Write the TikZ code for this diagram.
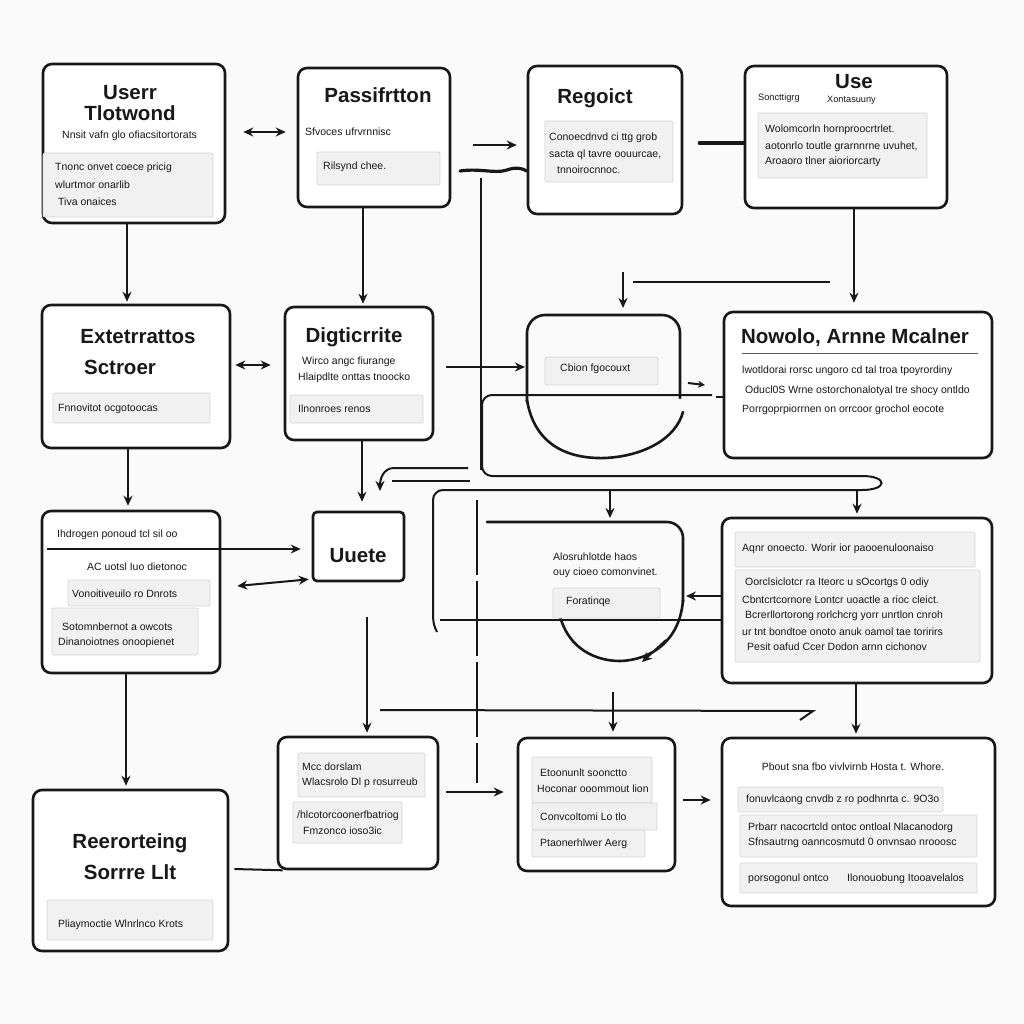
\documentclass[tikz,border=0pt]{standalone}
\usepackage{fontspec}
\setmainfont{Liberation Sans}
\usetikzlibrary{arrows.meta}
\definecolor{ink}{RGB}{24,24,24}
\definecolor{bg}{RGB}{250,250,250}
\definecolor{bandfill}{RGB}{241,241,241}
\definecolor{bandline}{RGB}{214,214,214}
\tikzset{
 box/.style={draw=ink, line width=2.6pt, rounded corners=9pt, fill=white, inner sep=0pt},
 band/.style={fill=bandfill, draw=bandline, line width=0.7pt, rounded corners=2pt},
 ttl/.style={font=\fontsize{20.5}{21}\selectfont\bfseries, text=ink, align=center, inner sep=0pt},
 sm/.style={font=\fontsize{10.5}{12}\selectfont, text=ink, anchor=west, inner sep=0pt},
 tiny/.style={font=\fontsize{9.2}{10}\selectfont, text=ink, anchor=west, inner sep=0pt},
 conn/.style={draw=ink, line width=2pt},
 thick conn/.style={draw=ink, line width=3.2pt, line cap=round},
 arr/.style={conn, -{Stealth[length=10pt,width=9pt]}},
 darr/.style={conn, {Stealth[length=10pt,width=9pt]}-{Stealth[length=10pt,width=9pt]}},
 shp/.style={draw=ink, line width=2.6pt, line cap=round},
}
\begin{document}
\begin{tikzpicture}[x=1pt,y=-1pt]
\fill[bg] (0,0) rectangle (1024,1024);
\useasboundingbox (0,0) rectangle (1024,1024);

% ---------- boxes ----------
\node[box, minimum width=182pt, minimum height=159pt] (user) at (134,143.5) {};
\node[box, minimum width=152pt, minimum height=139pt] (pass) at (374,137.5) {};
\node[box, minimum width=154pt, minimum height=148pt] (reg) at (605,140) {};
\node[box, minimum width=202pt, minimum height=142pt] (use) at (846,137) {};
\node[box, minimum width=188pt, minimum height=143pt] (ext) at (136,376.5) {};
\node[box, minimum width=148pt, minimum height=133pt] (dig) at (359,373.5) {};
\node[box, minimum width=268pt, minimum height=146pt] (nowolo) at (858,385) {};
\node[box, minimum width=178pt, minimum height=162pt] (hyd) at (131,592) {};
\node[box, minimum width=91pt, minimum height=69pt, rounded corners=4pt] (uuete) at (358.5,546.5) {};
\node[box, minimum width=270pt, minimum height=165pt] (aqnr) at (857,600.5) {};
\node[box, minimum width=195pt, minimum height=161pt] (reer) at (130.5,870.5) {};
\node[box, minimum width=160pt, minimum height=132pt] (mcc) at (358,803) {};
\node[box, minimum width=157pt, minimum height=133pt] (etoo) at (596.5,804.5) {};
\node[box, minimum width=273pt, minimum height=168pt] (pbout) at (858.5,822) {};

% shape 7 (rounded top, round bottom)
\draw[shp, rounded corners=18pt] (527,402) -- (527,315) -- (680,315) -- (680,398);
\draw[shp] (527,400) .. controls (535,448) and (572,459) .. (605,458) .. controls (645,456) and (676,438) .. (683,412);
\coordinate (s7w) at (525,367);
\coordinate (s7n) at (623,308);
% shape 11
\draw[shp, rounded corners=16pt] (487,522) -- (683,522) -- (683,602);
\draw[shp] (557,598) .. controls (560,645) and (592,661) .. (620,661) .. controls (652,660) and (680,640) .. (683,600);
\coordinate (s11e) at (686,596);

% ---------- bands ----------
\path[band] (43,153) rectangle (213,217);
\path[band] (317,152) rectangle (440,185);
\path[band] (545,121) rectangle (673,182);
\path[band] (758,113) rectangle (927,178);
\path[band] (53,393) rectangle (210,423);
\path[band] (290,395) rectangle (423,423);
\path[band] (545,357) rectangle (658,385);
\path[band] (68,580) rectangle (210,606);
\path[band] (52,608) rectangle (198,655);
\path[band] (553,588) rectangle (660,618);
\path[band] (735,532) rectangle (975,567);
\path[band] (735,570) rectangle (980,662);
\path[band] (47,900) rectangle (213,940);
\path[band] (298,753) rectangle (425,797);
\path[band] (293,802) rectangle (402,843);
\path[band] (532,757) rectangle (652,803);
\path[band] (532,803) rectangle (657,830);
\path[band] (532,830) rectangle (645,857);
\path[band] (738,787) rectangle (943,812);
\path[band] (740,815) rectangle (977,857);
\path[band] (740,863) rectangle (977,893);

% ---------- texts ----------
\node[ttl] (tUser) at (130,103) {Userr\\Tlotwond};
\node[sm] (tUser1) at (62,136) {Nnsit vafn glo ofiacsitortorats};
\node[sm] (tUser2) at (55,168) {Tnonc onvet coece pricig};
\node[sm] (tUser3) at (55,185) {wlurtmor onarlib};
\node[sm] (tUser4) at (58,202) {Tiva onaices};

\node[ttl] (tPass) at (378,95) {Passifrtton};
\node[sm] (tPass1) at (305,132) {Sfvoces ufrvrnnisc};
\node[sm] (tPass2) at (323,167) {Rilsynd chee.};

\node[ttl] (tReg) at (595,98) {Regoict};
\node[sm] (tReg1) at (549,138) {Conoecdnvd ci ttg grob};
\node[sm] (tReg2) at (549,155) {sacta ql tavre oouurcae,};
\node[sm] (tReg3) at (557,170) {tnnoirocnnoc.};

\node[ttl] (tUse) at (854,82) {Use};
\node[tiny] (tUse0) at (758,98) {Soncttigrg};
\node[tiny] (tUse00) at (827,100) {Xontasuuny};
\node[sm] (tUse1) at (765,130) {Wolomcorln hornproocrtrlet.};
\node[sm] (tUse2) at (765,147) {aotonrlo toutle grarnnrne uvuhet,};
\node[sm] (tUse3) at (765,162) {Aroaoro tlner aioriorcarty};

\node[ttl] (tExt) at (138,337) {Extetrrattos};
\node[ttl] (tExt2) at (120,367) {Sctroer};
\node[sm] (tExt1) at (58,409) {Fnnovitot ocgotoocas};

\node[ttl] (tDig) at (354,337) {Digticrrite};
\node[sm] (tDig1) at (302,362) {Wirco angc fiurange};
\node[sm] (tDig2) at (298,378) {Hlaipdlte onttas tnoocko};
\node[sm] (tDig3) at (298,409) {Ilnonroes renos};

\node[sm] (tCb) at (560,369) {Cbion fgocouxt};

\node[ttl] (tNow) at (855,338) {Nowolo, Arnne Mcalner};
\draw[ink!70, line width=1pt] (742,353) -- (978,353);
\node[sm] (tNow1) at (742,371) {lwotldorai rorsc ungoro cd tal troa tpoyrordiny};
\node[sm] (tNow2) at (745,391) {Oducl0S Wrne ostorchonalotyal tre shocy ontldo};
\node[sm] (tNow3) at (742,410) {Porrgoprpiorrnen on orrcoor grochol eocote};

\node[sm] (tHyd1) at (57,535) {Ihdrogen ponoud tcl sil oo};
\node[sm] (tHyd2) at (87,567) {AC uotsl Iuo dietonoc};
\node[sm] (tHyd3) at (72,594) {Vonoitiveuilo ro Dnrots};
\node[sm] (tHyd4) at (62,627) {Sotomnbernot a owcots};
\node[sm] (tHyd5) at (58,643) {Dinanoiotnes onoopienet};

\node[ttl] (tUu) at (358,556) {Uuete};

\node[sm] (tAl1) at (553,557) {Alosruhlotde haos};
\node[sm] (tAl2) at (553,573) {ouy cioeo comonvinet.};
\node[sm] (tAl3) at (566,602) {Foratinqe};

\node[sm] (tAq1) at (742,549) {Aqnr onoecto. Worir ior paooenuloonaiso};
\node[sm] (tAq2) at (745,583) {Oorclsiclotcr ra Iteorc u sOcortgs 0 odiy};
\node[sm] (tAq3) at (742,600) {Cbntcrtcornore Lontcr uoactle a rioc cleict.};
\node[sm] (tAq4) at (745,616) {Bcrerllortorong rorlchcrg yorr unrtlon cnroh};
\node[sm] (tAq5) at (742,632) {ur tnt bondtoe onoto anuk oamol tae toririrs};
\node[sm] (tAq6) at (747,647) {Pesit oafud Ccer Dodon arnn cichonov};

\node[ttl] (tRe1) at (130,843) {Reerorteing};
\node[ttl] (tRe2) at (130,872) {Sorrre Llt};
\node[sm] (tRe3) at (58,925) {Pliaymoctie Wlnrlnco Krots};

\node[sm] (tM1) at (302,767) {Mcc dorslam};
\node[sm] (tM2) at (302,783) {Wlacsrolo Dl p rosurreub};
\node[sm] (tM3) at (297,816) {/hlcotorcoonerfbatriog};
\node[sm] (tM4) at (303,831) {Fmzonco ioso3ic};

\node[sm] (tE1) at (540,773) {Etoonunlt soonctto};
\node[sm] (tE2) at (537,789) {Hoconar ooommout lion};
\node[sm] (tE3) at (540,817) {Convcoltomi Lo tlo};
\node[sm] (tE4) at (540,844) {Ptaonerhlwer Aerg};

\node[sm, anchor=center] (tP0) at (853,767) {Pbout sna fbo vivlvirnb Hosta t. Whore.};
\node[sm] (tP1) at (746,800) {fonuvlcaong cnvdb z ro podhnrta c. 9O3o};
\node[sm] (tP2) at (748,828) {Prbarr nacocrtcld ontoc ontloal Nlacanodorg};
\node[sm] (tP3) at (748,843) {Sfnsautrng oanncosmutd 0 onvnsao nrooosc};
\node[sm] (tP4) at (748,879) {porsogonul ontco};
\node[sm] (tP5) at (847,879) {Ilonouobung Itooavelalos};

% ---------- connectors ----------
% column 1
\draw[arr] ([xshift=-7pt]user.south) -- ([xshift=-9pt,yshift=2pt]ext.north);
\draw[arr] ([xshift=-8pt]ext.south) -- ([xshift=-3pt,yshift=4pt]hyd.north);
\draw[arr] ([xshift=-5pt]hyd.south) -- ([xshift=-4.5pt,yshift=3pt]reer.north);
% double arrows
\draw[darr] ([xshift=17pt,yshift=11.5pt]user.east) -- ([xshift=-11pt,yshift=5.5pt]pass.west);
\draw[darr] ([xshift=4pt,yshift=11.5pt]ext.east) -- ([xshift=-13pt,yshift=8.5pt]dig.west);
% column 2
\draw[arr] ([xshift=-11pt]pass.south) -- ([xshift=4pt,yshift=2pt]dig.north);
\draw[arr] ([xshift=3pt]dig.south) -- ([xshift=3.5pt,yshift=9pt]uuete.north);
% to Regoict
\coordinate (r1s) at (473,145);
\draw[arr] (r1s) -- ([xshift=-10pt,yshift=-5pt]reg.west);
\coordinate (w1) at (460,171);
\draw[thick conn] (w1) .. controls (480,168) and (495,174) .. (507,170) .. controls (515,167) and (522,168) .. ([yshift=-31pt]reg.west);
% Regoict - Use
\draw[thick conn] ([xshift=16pt,yshift=-3pt]reg.east) -- ([yshift=-6pt]use.west);
% Use -> Nowolo
\draw[arr] ([xshift=8pt]use.south) -- ([xshift=-4pt,yshift=8pt]nowolo.north);
% line and arrow to shape 7
\coordinate (h1a) at (633,282);
\coordinate (h1b) at (830,282);
\draw[conn] (h1a) -- (h1b);
\coordinate (v1) at (623,272);
\draw[arr] (v1) -- (s7n);
% Digticrrite -> shape 7
\draw[arr] ([xshift=12pt,yshift=6.5pt]dig.east) -- (s7w);
% small arrow & dash
\coordinate (sa1) at (688,383);
\coordinate (sa2) at (705,385);
\draw[conn, -{Stealth[length=7pt,width=7pt]}] (sa1) -- (sa2);
\coordinate (d1) at (716,397);
\coordinate (d2) at (724,397);
\draw[conn] (d1) -- (d2);
% long vertical line and loop
\coordinate (lv) at (481,178);
\draw[conn] (lv) -- (481,470);
\draw[conn, rounded corners=10pt] (712,395) -- (482,395) -- (482,476) -- (862,476);
\draw[conn] (862,476) .. controls (888,476) and (888,490) .. (862,490);
\draw[conn, rounded corners=10pt] (862,490) -- (433,490) -- (433,614);
\draw[conn] (433,614) .. controls (433,624) and (435,628) .. (437,632);
% arrows down from loop
\coordinate (da1) at (610,490);
\coordinate (da2) at (857,490);
\draw[arr] (da1) -- (610,518);
\draw[arr] (da2) -- ([yshift=3pt]aqnr.north);
% left arrow to Uuete
\coordinate (la1) at (468,468);
\coordinate (la2) at (470,481);
\draw[conn, -{Stealth[length=10pt,width=9pt]}] (la1) -- (394,468) .. controls (384,468) and (380,478) .. (380,491);
\draw[conn] (la2) -- (392,481);
% through hyd to Uuete
\draw[arr] ([xshift=6pt,yshift=43pt]hyd.west) -- ([xshift=-11pt,yshift=-2.5pt]uuete.west);
% Uuete <-> hyd
\draw[darr] ([xshift=-3pt,yshift=3pt]uuete.south west) -- ([xshift=16pt,yshift=6pt]hyd.east);
% Aqnr -> shape 11
\draw[arr] ([yshift=4.5pt]aqnr.west) -- (s11e);
% horizontal through shape 11
\coordinate (h2) at (440,620);
\draw[conn] (h2) -- ([yshift=-19.5pt]aqnr.west);
% arc arrow of shape 11
\coordinate (aa1) at (666,640);
\coordinate (aa2) at (642,662);
\draw[arr] (aa1) -- (aa2);
% dashed vertical
\coordinate (dv) at (477,500);
\draw[conn, dash pattern=on 75pt off 6pt] (dv) -- (477,783);
% vertical arrow to mcc
\coordinate (v2) at (367,617);
\draw[arr] (v2) -- ([xshift=9pt,yshift=3pt]mcc.north);
% horizontal line with hook, arrow to etoo
\coordinate (h3a) at (380,710);
\draw[conn] (h3a) -- (813,711) -- (800,720);
\coordinate (v3) at (613,692);
\draw[arr] (v3) -- ([xshift=16.5pt,yshift=5pt]etoo.north);
% bottom row
\draw[arr] ([xshift=7pt,yshift=11pt]mcc.east) -- ([xshift=-13pt,yshift=12.5pt]etoo.west);
\draw[arr] ([xshift=7pt,yshift=4.5pt]etoo.east) -- ([xshift=-10pt,yshift=22pt]pbout.west);
\draw[conn] ([xshift=5pt,yshift=1.5pt]reer.east) -- ([xshift=6pt]mcc.south west);
\draw[arr] ([xshift=-1pt]aqnr.south) -- ([xshift=-2.5pt,yshift=3pt]pbout.north);
\end{tikzpicture}
\end{document}
